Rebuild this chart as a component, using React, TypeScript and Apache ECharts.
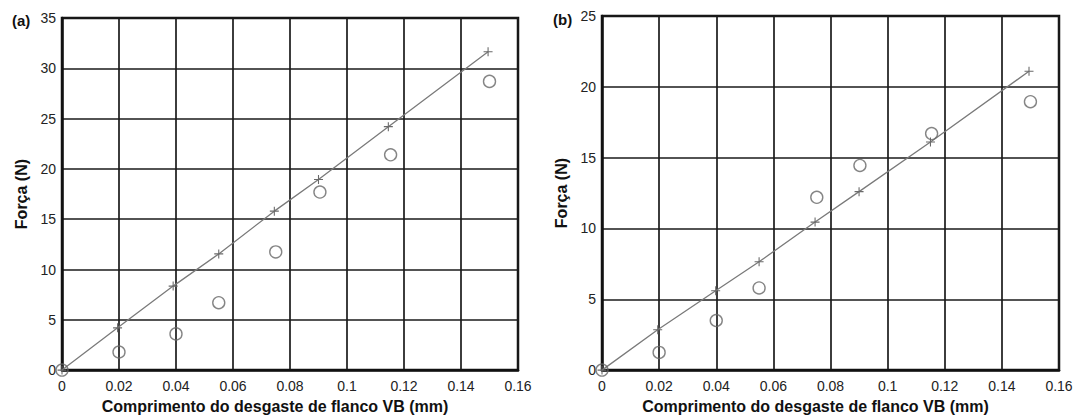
import React, { useEffect, useRef } from "react";
import * as echarts from "echarts";

// x positions (mm) and force values (N)
const xTickLabels = ["0", "0.02", "0.04", "0.06", "0.08", "0.1", "0.12", "0.14", "0.16"];

const aModelX = [0, 0.0195, 0.039, 0.055, 0.0745, 0.09, 0.1145, 0.1495];
const aModelY = [0, 4.2, 8.35, 11.55, 15.8, 18.95, 24.2, 31.65];
const aExpX = [0, 0.02, 0.04, 0.055, 0.075, 0.0905, 0.1153, 0.15];
const aExpY = [0, 1.8, 3.6, 6.7, 11.75, 17.7, 21.4, 28.7];

const bModelX = [0, 0.0195, 0.0398, 0.055, 0.0746, 0.09, 0.115, 0.1495];
const bModelY = [0, 2.85, 5.6, 7.65, 10.45, 12.6, 16.1, 21.1];
const bExpX = [0, 0.02, 0.04, 0.055, 0.0752, 0.0903, 0.1154, 0.15];
const bExpY = [0, 1.25, 3.5, 5.8, 12.2, 14.45, 16.7, 18.95];

const panelLabels = ["(a)", "(b)"];
const xAxisTitle = "Comprimento do desgaste de flanco VB (mm)";
const yAxisTitle = "Força (N)";

const FONT = "Liberation Sans, Arial, sans-serif";
const plusPath = "path://M4.4,0h1.2v10h-1.2z M0,4.4h10v1.2h-10z";

function zip(xs: number[], ys: number[]) {
  return xs.map((x, i) => [x, ys[i]]);
}

export default function App() {
  const ref = useRef<HTMLDivElement>(null);
  useEffect(() => {
    if (!ref.current) return;
    const chart = echarts.init(ref.current, null, { renderer: "svg" });
    const gridLine = { lineStyle: { color: "#1a1a1a", width: 1.7 } };
    const mkX = (gi: number) => ({
      type: "value",
      gridIndex: gi,
      min: 0,
      max: 0.16,
      interval: 0.02,
      name: xAxisTitle,
      nameLocation: "middle",
      nameGap: 26,
      nameTextStyle: { fontFamily: FONT, fontSize: 16, fontWeight: "bold", color: "#111", padding: [0, 30, 0, 0] },
      axisLine: { show: true, lineStyle: { color: "#111", width: 2.5 } },
      axisTick: { show: false },
      axisLabel: {
        fontFamily: FONT,
        fontSize: 14,
        color: "#222",
        margin: 9,
        formatter: (v: number) => xTickLabels[Math.round(v / 0.02)] ?? "",
      },
      splitLine: { show: true, ...gridLine },
    });
    const mkY = (gi: number, max: number) => ({
      type: "value",
      gridIndex: gi,
      min: 0,
      max,
      interval: 5,
      name: yAxisTitle,
      nameLocation: "middle",
      nameRotate: 90,
      nameGap: 33,
      nameTextStyle: { fontFamily: FONT, fontSize: 16, fontWeight: "bold", color: "#111" },
      axisLine: { show: true, lineStyle: { color: "#111", width: 2.5 } },
      axisTick: { show: false },
      axisLabel: { fontFamily: FONT, fontSize: 14, color: "#222", margin: 6 },
      splitLine: { show: true, ...gridLine },
    });
    const lineSeries = (gi: number, data: number[][]) => ({
      type: "line",
      xAxisIndex: gi,
      yAxisIndex: gi,
      data,
      symbol: plusPath,
      symbolSize: 9,
      showAllSymbol: true,
      lineStyle: { color: "#7a7a7a", width: 1.3 },
      itemStyle: { color: "#6a6a6a" },
      z: 3,
    });
    const circleSeries = (gi: number, data: number[][]) => ({
      type: "scatter",
      xAxisIndex: gi,
      yAxisIndex: gi,
      data,
      symbol: "circle",
      symbolSize: 12,
      itemStyle: { color: "rgba(255,255,255,0)", borderColor: "#666", borderWidth: 1.4 },
      z: 4,
    });
    chart.setOption({
      animation: false,
      backgroundColor: "#fff",
      textStyle: { fontFamily: FONT },
      title: [
        { text: panelLabels[0], left: 7, top: 8, textStyle: { fontFamily: FONT, fontSize: 15, fontWeight: "bold", color: "#111" } },
        { text: panelLabels[1], left: 548, top: 7, textStyle: { fontFamily: FONT, fontSize: 15, fontWeight: "bold", color: "#111" } },
      ],
      grid: [
        { left: 62, top: 18, width: 456, height: 357, show: true, borderColor: "#111", borderWidth: 2.5, backgroundColor: "transparent" },
        { left: 602, top: 16, width: 457, height: 359, show: true, borderColor: "#111", borderWidth: 2.5, backgroundColor: "transparent" },
      ],
      xAxis: [mkX(0), mkX(1)],
      yAxis: [mkY(0, 35), mkY(1, 25)],
      series: [
        lineSeries(0, zip(aModelX, aModelY)),
        circleSeries(0, zip(aExpX, aExpY)),
        lineSeries(1, zip(bModelX, bModelY)),
        circleSeries(1, zip(bExpX, bExpY)),
      ],
    });
    return () => chart.dispose();
  }, []);
  return (
    <div
      ref={ref}
      style={{ position: "fixed", left: 0, top: 0, width: 1079, height: 419, background: "#fff" }}
    />
  );
}
